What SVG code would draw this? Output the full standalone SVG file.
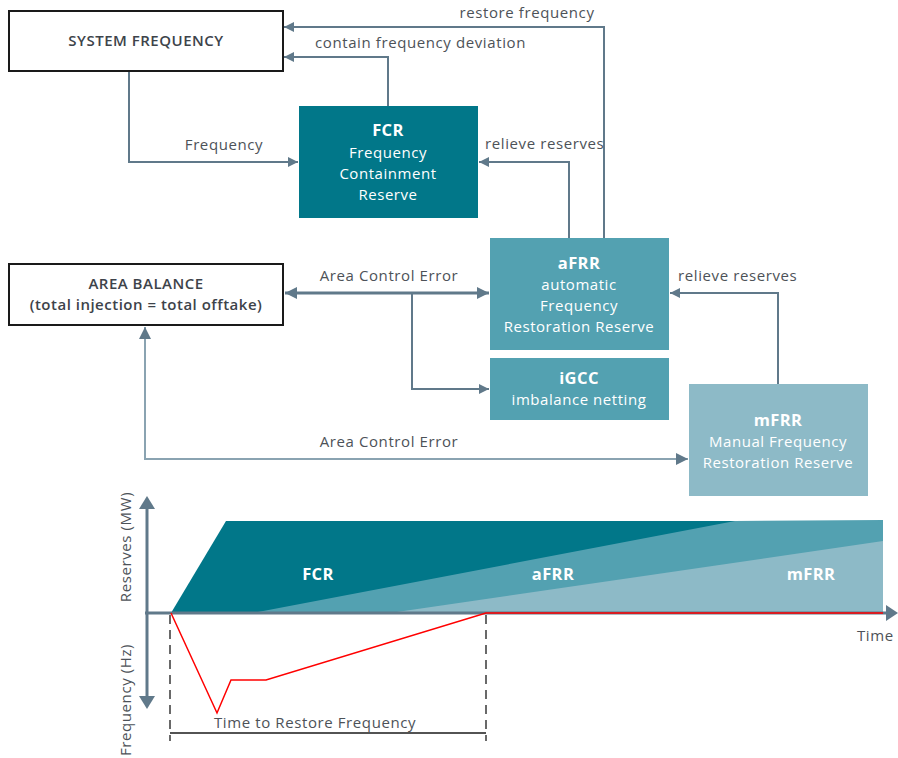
<svg xmlns="http://www.w3.org/2000/svg" width="898" height="758" viewBox="0 0 898 758">
<defs>
<style>
.lbl{font-family:"Open Sans","Liberation Sans",sans-serif;font-size:15px;fill:#4d5258;letter-spacing:0.6px}
.ttl{font-family:"Open Sans","Liberation Sans",sans-serif;font-size:15px;font-weight:600;fill:#3d434a;text-anchor:middle;letter-spacing:0.5px}
.nt{font-family:"Open Sans","Liberation Sans",sans-serif;font-size:15px;fill:#ffffff;text-anchor:middle;letter-spacing:0.55px}
.nb{font-family:"Open Sans","Liberation Sans",sans-serif;font-size:16.5px;font-weight:700;fill:#ffffff;text-anchor:middle;letter-spacing:0.4px}
.wb{fill:#ffffff;stroke:#1a1a1a;stroke-width:2}
.c{fill:none;stroke:#60798a;stroke-width:2}
.c3{fill:none;stroke:#60798a;stroke-width:3}
.cl{fill:none;stroke:#8aa3b1;stroke-width:2}
.dash{fill:none;stroke:#1a1a1a;stroke-width:1.3;stroke-dasharray:9,6}
</style>
<marker id="ah" viewBox="0 0 10 10" refX="10" refY="5" markerWidth="10" markerHeight="10" markerUnits="userSpaceOnUse" orient="auto-start-reverse">
<path d="M0,0 L10,5 L0,10 z" fill="#60798a"/>
</marker>
<marker id="ahb" viewBox="0 0 10 10" refX="10" refY="5" markerWidth="12" markerHeight="12" markerUnits="userSpaceOnUse" orient="auto-start-reverse">
<path d="M0,0 L10,5 L0,10 z" fill="#60798a"/>
</marker>
</defs>
<rect width="898" height="758" fill="#ffffff"/>

<g id="connectors">
<path class="c" d="M604,238 V27 H284" marker-end="url(#ah)"/>
<path class="c" d="M388,106 V57 H284" marker-end="url(#ah)"/>
<path class="c" d="M129,71 V162 H298" marker-end="url(#ah)"/>
<path class="c" d="M569,238 V162 H479" marker-end="url(#ah)"/>
<path class="c3" d="M285,293 H489" marker-start="url(#ahb)" marker-end="url(#ahb)"/>
<path class="c" d="M412,293 V389 H489" marker-end="url(#ah)"/>
<path class="c" d="M778,384 V293 H670" marker-end="url(#ah)"/>
<path class="cl" d="M145,327 V459 H688" marker-start="url(#ahb)" marker-end="url(#ahb)"/>
<text class="lbl" x="527" y="18" text-anchor="middle">restore frequency</text>
<text class="lbl" x="315" y="48">contain frequency deviation</text>
<text class="lbl" x="224" y="150" text-anchor="middle">Frequency</text>
<text class="lbl" x="485" y="149">relieve reserves</text>
<text class="lbl" x="389" y="281" text-anchor="middle">Area Control Error</text>
<text class="lbl" x="678" y="281">relieve reserves</text>
<text class="lbl" x="389" y="447" text-anchor="middle">Area Control Error</text>
</g>

<g id="system-frequency">
<rect class="wb" x="9" y="11" width="274" height="60"/>
<text class="ttl" x="146" y="46">SYSTEM FREQUENCY</text>
</g>

<g id="area-balance">
<rect class="wb" x="9" y="264" width="274" height="61"/>
<text class="ttl" x="146" y="289">AREA BALANCE</text>
<text class="ttl" x="146" y="310">(total injection = total offtake)</text>
</g>

<g id="fcr">
<rect x="299" y="106" width="179" height="112" fill="#017789"/>
<text class="nb" x="388" y="136">FCR</text>
<text class="nt" x="388" y="158">Frequency</text>
<text class="nt" x="388" y="179">Containment</text>
<text class="nt" x="388" y="200">Reserve</text>
</g>

<g id="afrr">
<rect x="490" y="238" width="179" height="112" fill="#53a1b1"/>
<text class="nb" x="579" y="269">aFRR</text>
<text class="nt" x="579" y="290">automatic</text>
<text class="nt" x="579" y="311">Frequency</text>
<text class="nt" x="579" y="332">Restoration Reserve</text>
</g>

<g id="igcc">
<rect x="490" y="358" width="179" height="62" fill="#53a1b1"/>
<text class="nb" x="579" y="384">iGCC</text>
<text class="nt" x="579" y="405">imbalance netting</text>
</g>

<g id="mfrr">
<rect x="689" y="384" width="179" height="112" fill="#8dbac7"/>
<text class="nb" x="778" y="426">mFRR</text>
<text class="nt" x="778" y="447">Manual Frequency</text>
<text class="nt" x="778" y="468">Restoration Reserve</text>
</g>

<g id="chart">
<polygon points="171,613 226,521 735,521 883,521 883,613" fill="#017789"/>
<polygon points="253,613 735,521 883,520 883,613" fill="#53a1b1"/>
<polygon points="390,613 883,541 883,613" fill="#8dbac7"/>
<text class="nb" x="318" y="580">FCR</text>
<text class="nb" x="553" y="580">aFRR</text>
<text class="nb" x="811" y="580">mFRR</text>
<path class="c3" d="M147,509 V697" />
<path d="M147,496 L139,509 L155,509 z" fill="#60798a"/>
<path d="M147,709 L139,696 L155,696 z" fill="#60798a"/>
<path class="c3" d="M145,613 H886"/>
<path d="M898,613 L886,605 L886,621 z" fill="#60798a"/>
<polyline points="171,613 217,713 231,680 266,680 486,613 883,613" fill="none" stroke="#ff0000" stroke-width="1.5"/>
<path class="dash" d="M170,615 V741"/>
<path class="dash" d="M486,615 V741"/>
<path d="M170,733 H486" stroke="#1a1a1a" stroke-width="1.3" fill="none"/>
<text class="lbl" x="214" y="728">Time to Restore Frequency</text>
<text class="lbl" x="857" y="641">Time</text>
<text class="lbl" transform="translate(131,547) rotate(-90)" text-anchor="middle">Reserves (MW)</text>
<text class="lbl" transform="translate(131,700) rotate(-90)" text-anchor="middle">Frequency (Hz)</text>
</g>
</svg>
